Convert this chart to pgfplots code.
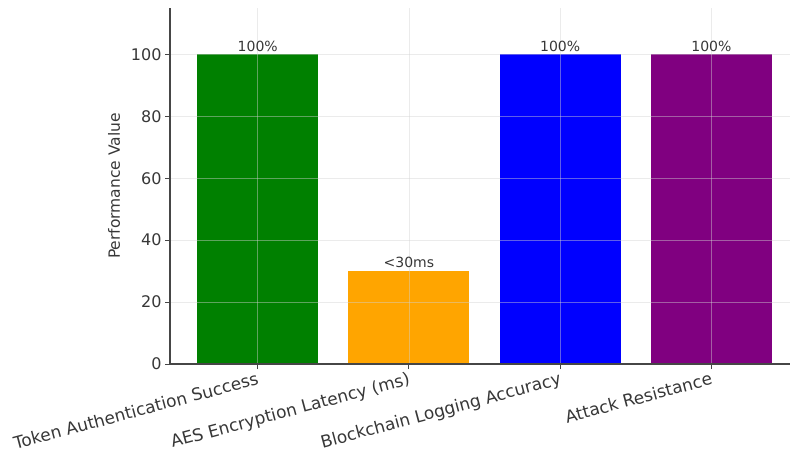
\documentclass[border=0pt]{standalone}
\usepackage{fontspec}
\setmainfont{DejaVu Sans}
\usepackage{pgfplots}
\pgfplotsset{compat=1.18}
\definecolor{txt}{RGB}{55,55,55}
\definecolor{spine}{RGB}{70,70,70}
\definecolor{mgreen}{RGB}{0,128,0}
\definecolor{morange}{RGB}{255,165,0}
\definecolor{mblue}{RGB}{0,0,255}
\definecolor{mpurple}{RGB}{128,0,128}
\begin{document}
\begin{tikzpicture}
\useasboundingbox (0pt,0pt) rectangle (791pt,-454pt);
\begin{axis}[
  at={(170pt,-364pt)}, anchor=south west,
  scale only axis, width=620pt, height=356pt,
  xmin=-0.58, xmax=3.52, ymin=0, ymax=115,
  axis x line*=bottom, axis y line*=left,
  axis line style={spine, line width=1.1pt, -},
  xtick={0,1,2,3},
  xticklabels={Token Authentication Success, AES Encryption Latency (ms), Blockchain Logging Accuracy, Attack Resistance},
  x tick label style={rotate=15, anchor=north east, font=\fontsize{17}{20}\selectfont, text=txt, inner sep=2pt},
  ytick={0,20,40,60,80,100},
  y tick label style={font=\fontsize{16}{19}\selectfont, text=txt},
  /pgf/number format/assume math mode=true,
  tick style={spine, line width=1pt},
  major tick length=5pt,
  tick align=outside,
  ylabel={Performance Value},
  every axis y label/.style={at={(ticklabel cs:0.5)}, rotate=90, anchor=south, yshift=4pt, font=\fontsize{15.5}{18}\selectfont, text=txt},
  grid=major,
  major grid style={gray!35, line width=0.6pt, opacity=0.45},
  axis on top,
  nodes near coords style={font=\fontsize{14}{16}\selectfont, text=txt, anchor=south, inner sep=3pt},
]
\addplot[ybar, bar width=0.8, bar shift=0pt, fill=mgreen, draw=none, nodes near coords={100\%}] coordinates {(0,100)};
\addplot[ybar, bar width=0.8, bar shift=0pt, fill=morange, draw=none, nodes near coords={<30ms}] coordinates {(1,30)};
\addplot[ybar, bar width=0.8, bar shift=0pt, fill=mblue, draw=none, nodes near coords={100\%}] coordinates {(2,100)};
\addplot[ybar, bar width=0.8, bar shift=0pt, fill=mpurple, draw=none, nodes near coords={100\%}] coordinates {(3,100)};
\end{axis}
\end{tikzpicture}
\end{document}
